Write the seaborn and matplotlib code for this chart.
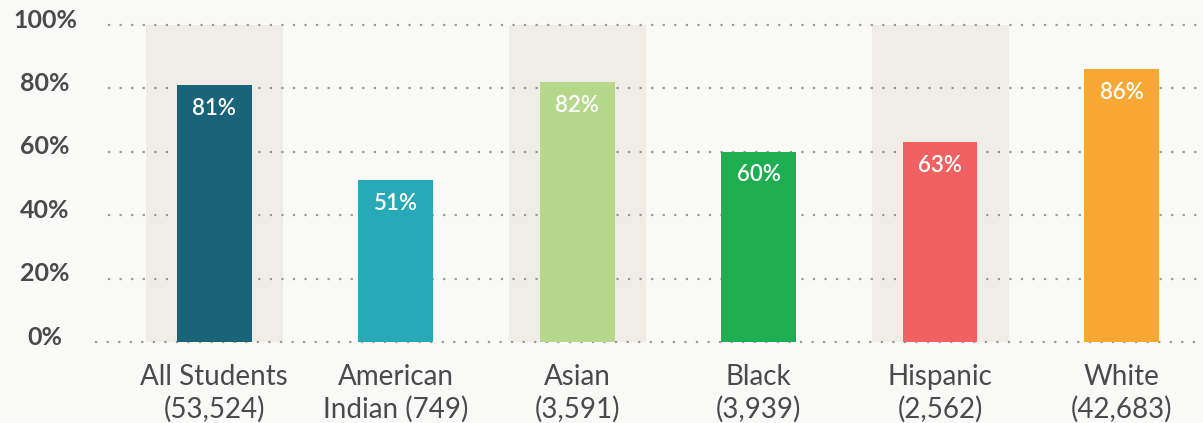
import matplotlib
matplotlib.use("Agg")
import matplotlib.pyplot as plt
import matplotlib.transforms as mtransforms
import pandas as pd
import seaborn as sns

# chart data
groups = ["All Students", "American Indian", "Asian", "Black", "Hispanic", "White"]
tick_labels = ["All Students\n(53,524)", "American\nIndian (749)", "Asian\n(3,591)",
               "Black\n(3,939)", "Hispanic\n(2,562)", "White\n(42,683)"]
rates = [81, 51, 82, 60, 63, 86]
colors = ["#1a6479", "#27a9b8", "#b5d88d", "#1fad52", "#f06262", "#f9a735"]
yticks = [0, 20, 40, 60, 80, 100]

df = pd.DataFrame({"group": groups, "rate": rates})

sns.set_style("white")
plt.rcParams["font.family"] = ["Lato", "DejaVu Sans"]

bg = "#f9f9f7"
fig = plt.figure(figsize=(12.03, 4.23), dpi=100, facecolor=bg)
ax = fig.add_axes([95 / 1203, 81 / 423, 1108 / 1203, 317 / 423])
ax.set_facecolor(bg)

# shaded bands behind every other group
for i in range(0, len(groups), 2):
    ax.bar(i, 100, width=0.755, color="#f0ede6", linewidth=0, zorder=0)

# dotted grid lines
for y in yticks:
    ax.axhline(y, xmin=0 if y == 0 else 0.012, color="#9a9a9a", lw=1.6,
               linestyle=(0, (1, 4.2)), zorder=1, clip_on=False)

sns.barplot(data=df, x="group", y="rate", hue="group", palette=colors,
            width=0.413, legend=False, saturation=1, linewidth=0, ax=ax, zorder=2)

for i, v in enumerate(rates):
    ax.text(i, v - 7.3, f"{v}%", ha="center", va="center", color="white",
            fontsize=16, fontweight="semibold", zorder=3)

ax.set_xlim(-0.656, 5.449)
ax.set_ylim(0, 100)
ax.set_yticks(yticks)
ax.set_yticklabels([f"{t}%" for t in yticks], fontsize=18, fontweight="bold",
                   color="#4a4a4e")
ax.set_xticks(range(len(groups)))
ax.set_xticklabels(tick_labels, fontsize=20, color="#4a4a4e", linespacing=1.27)
ax.tick_params(axis="y", length=0, pad=36)
ax.tick_params(axis="x", length=0, pad=16)
for lab in ax.get_yticklabels():
    lab.set_ha("center")
    lab.set_transform(lab.get_transform() +
                      mtransforms.ScaledTranslation(0, 7 / 100, fig.dpi_scale_trans))
ax.set_xlabel("")
ax.set_ylabel("")
for s in ax.spines.values():
    s.set_visible(False)

fig.savefig("out.png", dpi=100, facecolor=bg)
